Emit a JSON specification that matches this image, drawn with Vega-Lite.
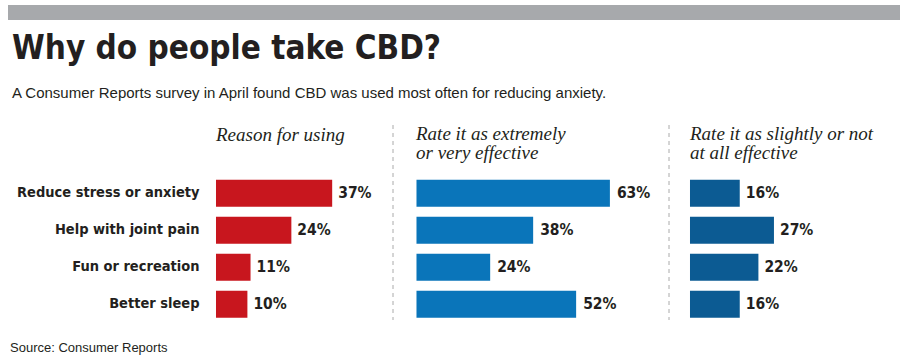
{
  "$schema": "https://vega.github.io/schema/vega-lite/v6.json",
  "background": "white",
  "padding": {"left": 8, "top": 5, "right": 6, "bottom": 4},
  "title": {"text": "Source: Consumer Reports", "orient": "bottom", "anchor": "start", "frame": "group", "font": "Liberation Sans", "fontSize": 13, "fontWeight": "normal", "fontStyle": "normal", "color": "#231f20", "offset": 21, "dx": 2},
  "datasets": {
    "cbd": [
      {"reason": "Reduce stress or anxiety", "measure": "use", "value": 0.37},
      {"reason": "Help with joint pain", "measure": "use", "value": 0.24},
      {"reason": "Fun or recreation", "measure": "use", "value": 0.11},
      {"reason": "Better sleep", "measure": "use", "value": 0.10},
      {"reason": "Reduce stress or anxiety", "measure": "effective", "value": 0.63},
      {"reason": "Help with joint pain", "measure": "effective", "value": 0.38},
      {"reason": "Fun or recreation", "measure": "effective", "value": 0.24},
      {"reason": "Better sleep", "measure": "effective", "value": 0.52},
      {"reason": "Reduce stress or anxiety", "measure": "ineffective", "value": 0.16},
      {"reason": "Help with joint pain", "measure": "ineffective", "value": 0.27},
      {"reason": "Fun or recreation", "measure": "ineffective", "value": 0.22},
      {"reason": "Better sleep", "measure": "ineffective", "value": 0.16}
    ]
  },
  "spacing": 12,
  "vconcat": [
    {
      "data": {"values": [{"band": "header"}]},
      "width": 892,
      "height": 15,
      "view": {"fill": "#a7a9ac", "stroke": null},
      "mark": {"type": "rect", "color": "#a7a9ac"},
      "encoding": {}
    },
    {
      "title": {
        "text": "Why do people take CBD?",
        "subtitle": "A Consumer Reports survey in April found CBD was used most often for reducing anxiety.",
        "font": "DejaVu Sans Condensed", "fontStyle": "normal", "fontWeight": "bold", "fontSize": 33, "color": "#231f20",
        "subtitleFont": "Liberation Sans", "subtitleFontSize": 15, "subtitleColor": "#231f20", "subtitleFontStyle": "normal", "subtitleFontWeight": "normal",
        "subtitlePadding": 20, "offset": 24, "dx": 4
      },
      "bounds": "flush",
      "spacing": 0,
      "hconcat": [
        {
          "width": 385,
          "height": 195,
          "data": {"name": "cbd"},
          "transform": [{"filter": "datum.measure === 'use'"}],
          "title": {"text": "Reason for using", "offset": -20, "dx": 208},
          "layer": [
            {
              "mark": {"type": "bar", "color": "#c8161e"},
              "encoding": {
                "y": {"field": "reason", "type": "nominal", "sort": null,
                  "scale": {"paddingInner": 0.27, "paddingOuter": 0.77, "align": 0.96},
                  "axis": {"title": null, "domain": false, "ticks": false, "offset": -208, "labelPadding": 17, "labelLimit": 400, "labelFont": "DejaVu Sans Condensed", "labelFontWeight": "bold", "labelFontSize": 14.5, "labelColor": "#231f20"}},
                "x": {"field": "value", "type": "quantitative", "scale": {"domain": [-0.6624, 0.5637], "nice": false, "zero": false}, "axis": null}
              }
            },
            {
              "mark": {"type": "text", "align": "left", "baseline": "middle", "dx": 6, "font": "DejaVu Sans Condensed", "fontWeight": "bold", "fontSize": 15.5, "color": "#231f20"},
              "encoding": {
                "y": {"field": "reason", "type": "nominal", "sort": null},
                "x": {"field": "value", "type": "quantitative"},
                "text": {"field": "value", "format": ".0%"}
              }
            }
          ]
        },
        {
          "width": 276,
          "height": 195,
          "data": {"name": "cbd"},
          "transform": [{"filter": "datum.measure === 'effective'"}],
          "title": {"text": ["Rate it as extremely", "or very effective"], "offset": -38, "dx": 23},
          "layer": [
            {
              "data": {"values": [{"separator": "left"}]},
              "mark": {"type": "rule", "strokeDash": [4, 4], "color": "#aaaaaa", "strokeWidth": 1},
              "encoding": {"x": {"datum": -0.0765, "type": "quantitative", "scale": {"domain": [-0.0765, 0.8225], "nice": false, "zero": false}, "axis": null}}
            },
            {
              "mark": {"type": "bar", "color": "#0a75ba"},
              "encoding": {
                "y": {"field": "reason", "type": "nominal", "sort": null,
                  "scale": {"paddingInner": 0.27, "paddingOuter": 0.77, "align": 0.96}, "axis": null},
                "x": {"field": "value", "type": "quantitative"}
              }
            },
            {
              "mark": {"type": "text", "align": "left", "baseline": "middle", "dx": 7, "font": "DejaVu Sans Condensed", "fontWeight": "bold", "fontSize": 15.5, "color": "#231f20"},
              "encoding": {
                "y": {"field": "reason", "type": "nominal", "sort": null},
                "x": {"field": "value", "type": "quantitative"},
                "text": {"field": "value", "format": ".0%"}
              }
            }
          ]
        },
        {
          "width": 225,
          "height": 195,
          "data": {"name": "cbd"},
          "transform": [{"filter": "datum.measure === 'ineffective'"}],
          "title": {"text": ["Rate it as slightly or not", "at all effective"], "offset": -38, "dx": 21},
          "layer": [
            {
              "data": {"values": [{"separator": "left"}]},
              "mark": {"type": "rule", "strokeDash": [4, 4], "color": "#aaaaaa", "strokeWidth": 1},
              "encoding": {"x": {"datum": -0.0675, "type": "quantitative", "scale": {"domain": [-0.0675, 0.656], "nice": false, "zero": false}, "axis": null}}
            },
            {
              "mark": {"type": "bar", "color": "#0c5b93"},
              "encoding": {
                "y": {"field": "reason", "type": "nominal", "sort": null,
                  "scale": {"paddingInner": 0.27, "paddingOuter": 0.77, "align": 0.96}, "axis": null},
                "x": {"field": "value", "type": "quantitative"}
              }
            },
            {
              "mark": {"type": "text", "align": "left", "baseline": "middle", "dx": 6, "font": "DejaVu Sans Condensed", "fontWeight": "bold", "fontSize": 15.5, "color": "#231f20"},
              "encoding": {
                "y": {"field": "reason", "type": "nominal", "sort": null},
                "x": {"field": "value", "type": "quantitative"},
                "text": {"field": "value", "format": ".0%"}
              }
            }
          ]
        }
      ]
    }
  ],
  "config": {
    "view": {"stroke": null},
    "font": "Liberation Sans",
    "title": {"anchor": "start", "frame": "group", "font": "Liberation Serif", "fontStyle": "italic", "fontWeight": "normal", "fontSize": 19, "lineHeight": 19, "color": "#231f20"}
  }
}
